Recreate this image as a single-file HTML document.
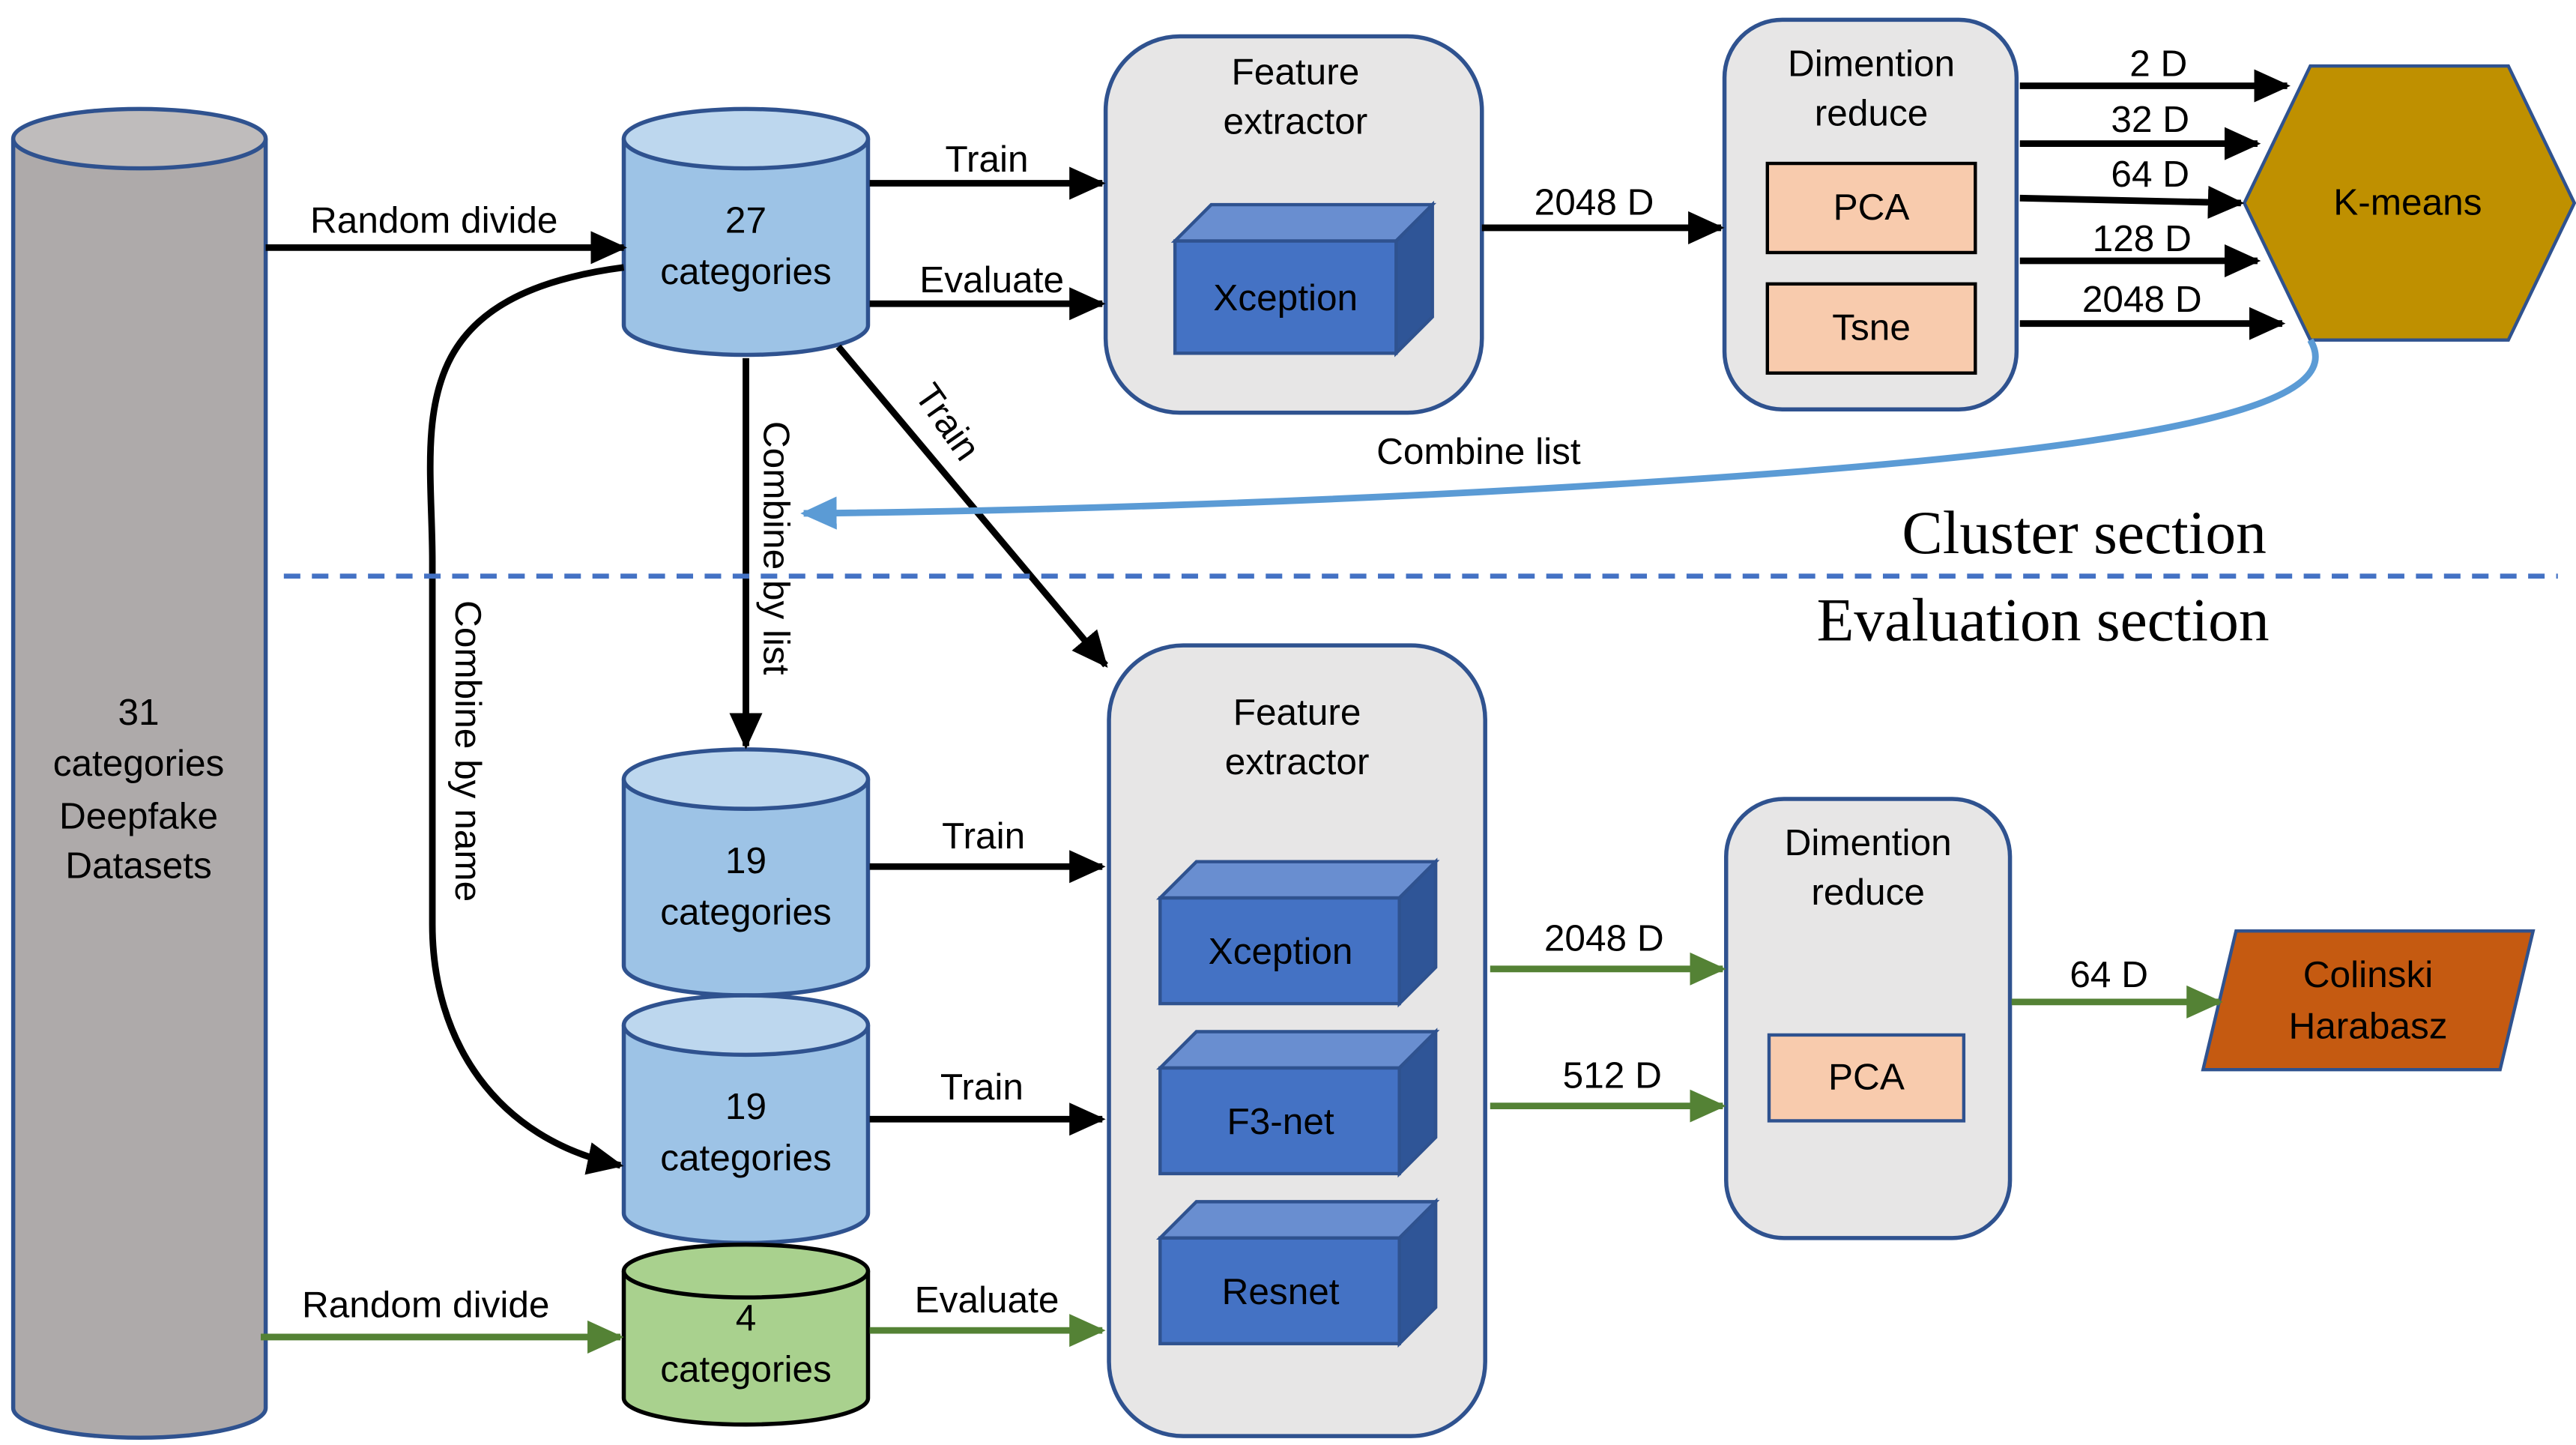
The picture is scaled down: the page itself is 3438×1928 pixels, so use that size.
<!DOCTYPE html>
<html><head><meta charset="utf-8"><style>
html,body{margin:0;padding:0;background:#fff;}
svg{display:block;}
text{font-family:"Liberation Sans",sans-serif;font-size:22.5px;fill:#000;text-anchor:middle;}
.serif{font-family:"Liberation Serif",serif;font-size:37px;}
</style></head><body>
<svg width="3438" height="1928" viewBox="0 0 1561 875.4" preserveAspectRatio="none" xmlns="http://www.w3.org/2000/svg">
<defs>
<marker id="ak" markerWidth="6" markerHeight="6" refX="5" refY="3" orient="auto" markerUnits="strokeWidth"><path d="M0,0.5 L5.5,3 L0,5.5 z" fill="#000"/></marker>
<marker id="ag" markerWidth="6" markerHeight="6" refX="5" refY="3" orient="auto" markerUnits="strokeWidth"><path d="M0,0.5 L5.5,3 L0,5.5 z" fill="#548235"/></marker>
<marker id="ab" markerWidth="6" markerHeight="6" refX="5" refY="3" orient="auto" markerUnits="strokeWidth"><path d="M0,0.5 L5.5,3 L0,5.5 z" fill="#5b9bd5"/></marker>
</defs>
<path d="M8,84 L8,853 A76.5,18 0 0 0 161,853 L161,84" fill="#aeaaaa" stroke="#2f528f" stroke-width="2.5"/>
<ellipse cx="84.5" cy="84" rx="76.5" ry="18" fill="#bfbcbc" stroke="#2f528f" stroke-width="2.5"/>
<text x="84" y="439">31</text><text x="84" y="470">categories</text><text x="84" y="502">Deepfake</text><text x="84" y="532">Datasets</text>
<g stroke="#2f528f" stroke-width="2.5">
<path d="M378,84 L378,197 A74,18 0 0 0 526,197 L526,84" fill="#9dc3e6"/><ellipse cx="452" cy="84" rx="74" ry="18" fill="#bdd7ee"/>
<path d="M378,472 L378,585 A74,18 0 0 0 526,585 L526,472" fill="#9dc3e6"/><ellipse cx="452" cy="472" rx="74" ry="18" fill="#bdd7ee"/>
<path d="M378,621 L378,735 A74,18 0 0 0 526,735 L526,621" fill="#9dc3e6"/><ellipse cx="452" cy="621" rx="74" ry="18" fill="#bdd7ee"/>
<path d="M378,770 L378,847 A74,16 0 0 0 526,847 L526,770" fill="#a9d18e" stroke="#000"/><ellipse cx="452" cy="770" rx="74" ry="16" fill="#a9d18e" stroke="#000"/>
</g>
<text x="452" y="141">27</text><text x="452" y="172">categories</text>
<text x="452" y="529">19</text><text x="452" y="560">categories</text>
<text x="452" y="678">19</text><text x="452" y="709">categories</text>
<text x="452" y="806">4</text><text x="452" y="837">categories</text>
<rect x="670" y="22" width="228" height="228" rx="45" fill="#e7e6e6" stroke="#2f528f" stroke-width="2.5"/>
<text x="785" y="51">Feature</text><text x="785" y="81">extractor</text>
<g stroke="#2f528f" stroke-width="2">
<path d="M712,146 L734,124 L868,124 L846,146 z" fill="#698ed0"/><path d="M846,146 L868,124 L868,192 L846,214 z" fill="#2f5597"/><rect x="712" y="146" width="134" height="68" fill="#4472c4"/>
</g>
<text x="779" y="188">Xception</text>
<rect x="1045" y="12" width="177" height="236" rx="35" fill="#e7e6e6" stroke="#2f528f" stroke-width="2.5"/>
<text x="1134" y="46">Dimention</text><text x="1134" y="76">reduce</text>
<rect x="1071" y="99" width="126" height="54" fill="#f8cbad" stroke="#000" stroke-width="2"/><text x="1134" y="133">PCA</text>
<rect x="1071" y="172" width="126" height="54" fill="#f8cbad" stroke="#000" stroke-width="2"/><text x="1134" y="206">Tsne</text>
<polygon points="1360,123 1400,40 1520,40 1560,123 1520,206 1400,206" fill="#bf9000" stroke="#2f528f" stroke-width="2"/>
<text x="1459" y="130">K-means</text>
<g stroke="#000" stroke-width="4" fill="none" marker-end="url(#ak)">
<line x1="161" y1="150" x2="378" y2="150"/>
<line x1="527" y1="111" x2="668" y2="111"/>
<line x1="527" y1="184" x2="668" y2="184"/>
<line x1="898" y1="138" x2="1043" y2="138"/>
<line x1="1224" y1="52" x2="1386" y2="52"/>
<line x1="1224" y1="87" x2="1368" y2="87"/>
<line x1="1224" y1="120" x2="1358" y2="123"/>
<line x1="1224" y1="158" x2="1368" y2="158"/>
<line x1="1224" y1="196" x2="1383" y2="196"/>
<line x1="452" y1="217" x2="452" y2="452"/>
<line x1="508" y1="210" x2="670" y2="403"/>
<path d="M378,162 C240,180 262,260 262,340 L262,560 C262,630 300,690 376,706"/>
<line x1="527" y1="525" x2="668" y2="525"/>
<line x1="527" y1="678" x2="668" y2="678"/>
</g>
<text x="263" y="141">Random divide</text>
<text x="598" y="104">Train</text>
<text x="601" y="177">Evaluate</text>
<text x="966" y="130">2048 D</text>
<text x="1308" y="46">2 D</text><text x="1303" y="80">32 D</text><text x="1303" y="113">64 D</text><text x="1298" y="152">128 D</text><text x="1298" y="189">2048 D</text>
<text transform="translate(463,332) rotate(90)">Combine by list</text>
<text transform="translate(568,260) rotate(55)">Train</text>
<text transform="translate(276,455) rotate(90)">Combine by name</text>
<text x="596" y="514">Train</text>
<text x="595" y="666">Train</text>
<path d="M1400,206 C1420,240 1350,270 1000,292 C800,305 600,310 487,311" fill="none" stroke="#5b9bd5" stroke-width="4" marker-end="url(#ab)"/>
<text x="896" y="281">Combine list</text>
<line x1="172" y1="349" x2="1550" y2="349" stroke="#4472c4" stroke-width="3" stroke-dasharray="10,7"/>
<text class="serif" x="1263" y="335">Cluster section</text>
<text class="serif" x="1238" y="388">Evaluation section</text>
<rect x="672" y="391" width="228" height="479" rx="45" fill="#e7e6e6" stroke="#2f528f" stroke-width="2.5"/>
<text x="786" y="439">Feature</text><text x="786" y="469">extractor</text>
<g stroke="#2f528f" stroke-width="2">
<path d="M703,544 L725,522 L870,522 L848,544 z" fill="#698ed0"/><path d="M848,544 L870,522 L870,586 L848,608 z" fill="#2f5597"/><rect x="703" y="544" width="145" height="64" fill="#4472c4"/>
<path d="M703,647 L725,625 L870,625 L848,647 z" fill="#698ed0"/><path d="M848,647 L870,625 L870,689 L848,711 z" fill="#2f5597"/><rect x="703" y="647" width="145" height="64" fill="#4472c4"/>
<path d="M703,750 L725,728 L870,728 L848,750 z" fill="#698ed0"/><path d="M848,750 L870,728 L870,792 L848,814 z" fill="#2f5597"/><rect x="703" y="750" width="145" height="64" fill="#4472c4"/>
</g>
<text x="776" y="584">Xception</text><text x="776" y="687">F3-net</text><text x="776" y="790">Resnet</text>
<rect x="1046" y="484" width="172" height="266" rx="35" fill="#e7e6e6" stroke="#2f528f" stroke-width="2.5"/>
<text x="1132" y="518">Dimention</text><text x="1132" y="548">reduce</text>
<rect x="1072" y="627" width="118" height="52" fill="#f8cbad" stroke="#2f528f" stroke-width="2"/><text x="1131" y="660">PCA</text>
<polygon points="1355,564 1535,564 1515,648 1335,648" fill="#c55a11" stroke="#2f528f" stroke-width="2"/>
<text x="1435" y="598">Colinski</text><text x="1435" y="629">Harabasz</text>
<g stroke="#548235" stroke-width="4" fill="none" marker-end="url(#ag)">
<line x1="158" y1="810" x2="376" y2="810"/>
<line x1="527" y1="806" x2="668" y2="806"/>
<line x1="903" y1="587" x2="1044" y2="587"/>
<line x1="903" y1="670" x2="1044" y2="670"/>
<line x1="1219" y1="607" x2="1345" y2="607"/>
</g>
<text x="258" y="798">Random divide</text>
<text x="598" y="795">Evaluate</text>
<text x="972" y="576">2048 D</text>
<text x="977" y="659">512 D</text>
<text x="1278" y="598">64 D</text>
</svg>
</body></html>
